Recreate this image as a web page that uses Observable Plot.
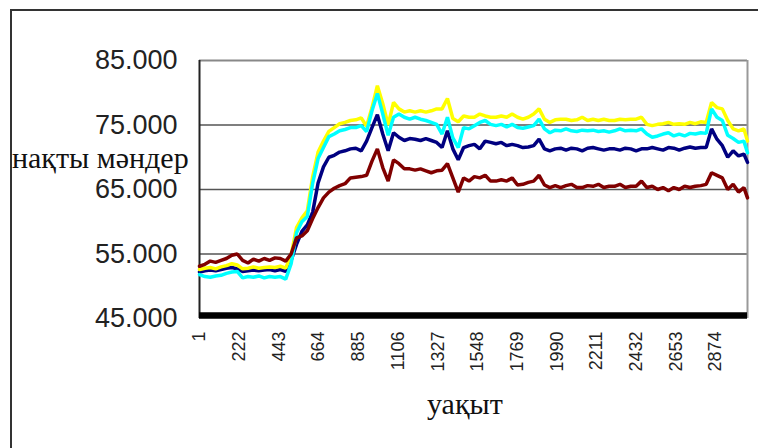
<!DOCTYPE html>
<html><head><meta charset="utf-8">
<script src="https://cdn.jsdelivr.net/npm/d3@7"></script>
<script src="https://cdn.jsdelivr.net/npm/@observablehq/plot@0.6"></script>
<style>
body{margin:0;background:#fff;}
#wrap{position:relative;width:758px;height:448px;overflow:hidden;background:#fff;}
#chart{position:absolute;left:0;top:0;}
#border{position:absolute;left:10px;top:9px;width:800px;height:500px;border-left:2.5px solid #333;border-top:2.5px solid #333;}
.lab{position:absolute;font-family:"Liberation Serif","Times New Roman",serif;font-size:30px;line-height:1;color:#111;white-space:nowrap;}
#ylab{left:12px;top:143px;}
#xlab{left:427px;top:389px;}
</style></head><body>
<div id="wrap"><div id="chart"></div><div id="border"></div>
<div class="lab" id="ylab">нақты мәндер</div><div class="lab" id="xlab">уақыт</div></div>
<script>
// category index (time step) of each sampled point
const t = [...d3.range(1, 3032, 30), 3051];
const yellow = [52.6,52.8,52.9,52.7,53.0,53.2,53.5,53.3,52.7,52.8,
 53.0,52.8,52.9,53.0,52.9,53.1,52.8,54.8,59.1,60.6,
 61.7,67.0,70.8,72.5,74.0,74.6,75.2,75.4,75.7,75.8,
 76.1,74.8,77.7,81.1,78.3,75.0,78.5,77.5,77.0,77.2,
 77.0,77.2,77.0,77.2,77.5,77.5,79.1,76.0,75.5,76.4,
 76.2,76.2,76.7,76.4,76.2,76.2,76.4,76.2,76.7,76.2,
 75.9,76.2,76.7,77.5,75.9,75.4,75.8,75.9,75.9,75.7,
 75.8,76.2,75.7,75.9,75.7,75.9,75.7,75.7,75.9,75.8,
 75.9,75.9,76.2,75.1,74.9,75.1,75.2,75.4,75.1,75.2,
 75.1,75.4,75.2,75.5,75.4,78.5,77.7,77.5,75.7,74.4,
 74.1,74.4,72.5];
const cyan = [51.8,51.5,51.4,51.6,51.7,52.0,52.2,52.3,51.3,51.5,
 51.4,51.6,51.3,51.5,51.4,51.5,51.1,53.5,58.3,60.0,
 60.8,66.0,69.8,71.5,73.2,73.6,74.1,74.3,74.6,74.6,
 74.9,74.0,77.2,79.9,76.7,73.4,76.2,76.7,76.2,75.9,
 76.2,75.9,75.7,75.4,75.1,73.6,76.2,73.0,71.5,74.6,
 74.4,74.9,75.4,75.7,75.1,74.9,75.1,74.7,75.1,74.6,
 74.5,74.7,74.9,75.9,74.4,73.8,74.2,74.1,74.4,74.1,
 74.0,74.2,74.1,74.2,74.0,74.1,73.9,74.1,74.4,74.1,
 74.2,74.1,74.4,73.6,73.1,73.3,73.6,73.8,73.3,73.6,
 73.3,73.7,73.6,73.8,73.7,77.5,76.2,75.7,73.4,72.9,
 72.3,72.5,70.7];
const navy = [52.2,52.4,52.5,52.4,52.6,52.8,52.9,52.7,52.3,52.4,
 52.5,52.4,52.5,52.6,52.4,52.6,52.3,54.0,56.5,58.5,
 59.5,61.5,66.0,68.5,70.0,70.3,70.8,71.0,71.3,71.4,
 71.0,72.5,74.6,76.6,73.6,71.0,73.8,73.1,72.6,72.9,
 72.8,72.6,72.9,72.6,72.3,71.5,74.1,71.3,69.6,71.5,
 71.8,72.0,71.3,72.5,72.3,72.1,72.3,71.8,72.0,71.8,
 71.5,71.6,71.8,72.8,71.3,71.0,71.3,71.4,71.1,71.4,
 71.3,71.0,71.4,71.5,71.3,71.1,71.3,71.3,71.1,71.4,
 71.3,71.0,71.3,71.3,71.5,71.3,71.1,71.5,71.4,71.1,
 71.4,71.6,71.4,71.5,71.5,74.4,72.8,71.8,70.0,71.0,
 70.2,70.5,69.2];
const maroon = [53.1,53.4,53.9,53.7,54.0,54.3,54.8,55.0,54.0,53.6,
 54.2,53.9,54.3,54.0,54.4,54.3,53.9,55.0,57.5,57.8,
 58.6,60.5,62.2,63.7,64.6,65.2,65.6,65.9,66.8,66.9,
 67.0,67.2,69.4,71.3,68.4,66.3,69.6,69.0,68.2,68.2,
 68.0,68.2,67.9,67.6,67.9,68.0,69.0,66.8,64.6,66.8,
 66.3,67.0,66.8,67.2,66.3,66.3,66.5,66.3,66.8,65.7,
 65.8,66.1,66.3,67.2,65.7,65.3,65.6,65.3,65.6,65.8,
 65.3,65.3,65.6,65.5,65.8,65.3,65.5,65.5,65.8,65.3,
 65.5,65.5,66.3,65.3,65.5,65.0,65.3,64.8,65.3,65.0,
 65.5,65.3,65.5,65.6,65.8,67.6,67.2,66.8,65.0,65.8,
 64.6,65.3,63.7];
const xTicks = [1,222,443,664,885,1106,1327,1548,1769,1990,2211,2432,2653,2874];
const yTicks = [45,55,65,75,85];
const gridValues = [55,65,75];

const series = [
  {values: navy, color: "#000080"},
  {values: yellow, color: "#ffff00"},
  {values: cyan, color: "#00ffff"},
  {values: maroon, color: "#800000"}
];
const lineMarks = series.map(s => Plot.line(s.values.map((v, i) => ({t: t[i], v})),
  {x: "t", y: "v", stroke: s.color, strokeWidth: 3.5, strokeLinejoin: "miter"}));

const chart = Plot.plot({
  width: 758, height: 448,
  marginTop: 60, marginBottom: 130, marginLeft: 199, marginRight: 11,
  style: {fontFamily: "'Liberation Sans', Arial, sans-serif", background: "transparent"},
  x: {domain: [1, 3051], label: null},
  y: {domain: [45, 85], label: null},
  marks: [
    Plot.ruleY(gridValues, {stroke: "#555", strokeWidth: 1.4}),
    Plot.ruleY([85], {stroke: "#888", strokeWidth: 2}),
    Plot.ruleX([3051], {stroke: "#999", strokeWidth: 2}),
    Plot.ruleX([1], {stroke: "#222", strokeWidth: 2}),
    ...lineMarks,
    Plot.ruleY([45], {stroke: "#000", strokeWidth: 6.5, dy: -3}),
    Plot.axisX(xTicks, {tickSize: 0, tickPadding: 13, tickRotate: -90, tickFormat: d => String(d), fontSize: 18, fill: "#222", label: null}),
    Plot.axisY(yTicks, {tickSize: 0, tickPadding: 22, tickFormat: d3.format(".3f"), fontSize: 27, fill: "#222", label: null})
  ]
});
document.getElementById("chart").appendChild(chart);
</script>
</body></html>
